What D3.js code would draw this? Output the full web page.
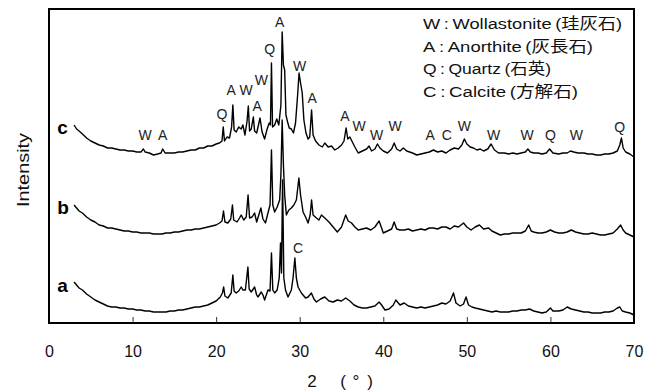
<!DOCTYPE html>
<html>
<head>
<meta charset="utf-8">
<script src="https://cdn.jsdelivr.net/npm/d3@7"></script>
<style>
    body { margin: 0; background: #fff; }
    text { font-family: "Liberation Sans", Arial, "Noto Sans CJK JP", sans-serif; }
</style>
</head>
<body>
<div id="chart"></div>
<script>
// XRD patterns, [2theta, intensity] (arbitrary units)
const patternA = [
    [3,41],[3.3,38],[3.6,35],[4,33],[4.5,29],[5,26],[5.5,23],[6,21],[6.5,19],[7,17],[7.5,16],[8,16],[8.5,15],[9,15],[9.5,14],[10,14],
    [10.5,13],[11,13],[11.5,12],[12,12],[12.5,11],[13,11],[13.5,11],[14,11],[14.5,12],[15,12],[15.5,13],[16,13],[16.5,14],[17,15],
    [17.5,16],[18,16],[18.5,17],[19,18],[19.5,20],[20,22],[20.5,26],[20.75,30],[20.9,36],[21.05,27],[21.4,25],[21.8,30],[22.0,48],
    [22.15,32],[22.4,30],[22.7,32],[23.0,36],[23.2,33],[23.5,33],[23.8,56],[23.95,34],[24.2,31],[24.6,36],[24.85,28],[25.0,26],
    [25.4,31],[25.6,28],[25.8,23],[26.2,33],[26.45,32],[26.62,70],[26.78,33],[27.0,30],[27.3,33],[27.55,45],[27.7,80],[27.82,50],
    [27.95,143],[28.1,45],[28.3,33],[28.6,26],[29.0,33],[29.2,45],[29.42,65],[29.6,45],[29.8,36],[30.2,30],[30.7,25],[31.0,26],
    [31.4,30],[31.7,24],[32.0,21],[32.5,24],[33.0,26],[33.5,22],[34.0,21],[34.5,23],[35.0,22],[35.5,25],[36.0,22],[36.5,18],
    [37.0,16],[37.5,15],[38.0,15],[38.5,16],[39.0,17],[39.5,21],[39.8,18],[40.2,13],[40.7,14],[41.2,18],[41.5,23],[42.0,18],
    [42.5,20],[43.0,17],[43.5,16],[44.0,15],[44.5,16],[45.0,15],[45.5,16],[46.0,17],[46.5,18],[47.0,20],[47.5,19],[48.0,22],
    [48.4,30],[48.7,20],[49.2,17],[49.6,19],[49.9,26],[50.2,18],[50.6,16],[51.0,15],[51.5,14],[52.0,13],[52.5,12],[53.0,11],
    [53.5,12],[54.0,11],[54.5,11],[55.0,11],[55.5,12],[56.0,12],[56.5,13],[57.0,13],[57.5,14],[58.0,12],[58.5,11],[59.0,10],
    [59.5,11],[60.0,15],[60.3,12],[61.0,12],[61.5,13],[62.0,16],[62.5,14],[63.0,13],[63.5,12],[64.0,11],[64.5,11],[65.0,10],
    [65.5,10],[66.0,10],[66.5,11],[67.0,11],[67.5,12],[68.0,15],[68.3,16],[68.6,12],[69.0,11],[69.5,10],[70,8]
];

const patternB = [
    [3,40],[3.3,37],[3.6,34],[4,32],[4.5,28],[5,25],[5.5,23],[6,20],[6.5,19],[7,17],[7.5,17],[8,16],[8.5,15],[9,14],[9.5,14],[10,13],
    [10.5,13],[11,12],[11.5,12],[12,12],[12.5,11],[13,11],[13.5,11],[14,12],[14.5,12],[15,13],[15.5,13],[16,14],[16.5,15],[17,15],
    [17.5,16],[18,16],[18.5,17],[19,18],[19.5,19],[20,20],[20.4,22],[20.7,24],[20.88,34],[21.05,23],[21.4,22],[21.75,26],[21.95,40],
    [22.1,25],[22.5,23],[22.8,27],[23.0,30],[23.3,25],[23.6,28],[23.82,50],[24.0,27],[24.3,28],[24.6,32],[24.85,23],[25.1,30],
    [25.35,37],[25.6,26],[25.9,22],[26.2,32],[26.45,40],[26.62,95],[26.78,40],[27.0,33],[27.3,38],[27.6,45],[27.75,70],[27.9,125],
    [28.05,80],[28.2,50],[28.4,30],[28.7,35],[29.0,37],[29.3,40],[29.6,45],[29.9,67],[30.1,50],[30.4,33],[30.7,28],[31.0,22],
    [31.25,30],[31.42,45],[31.6,30],[32.0,27],[32.3,25],[32.6,30],[33.0,27],[33.5,23],[34.0,18],[34.5,13],[35.0,18],[35.5,30],
    [35.8,24],[36.2,22],[36.6,18],[37.0,15],[37.5,16],[38.0,17],[38.5,15],[39.0,18],[39.5,24],[39.8,17],[40.0,12],[40.5,14],
    [41.0,16],[41.3,23],[41.6,16],[42.0,15],[42.5,15],[43.0,16],[43.5,14],[44.0,15],[44.5,16],[45.0,15],[45.5,17],[46.0,17],
    [46.5,16],[47.0,18],[47.5,18],[48.0,16],[48.5,19],[49.0,18],[49.3,20],[49.6,22],[50.0,18],[50.5,15],[51.0,18],[51.5,20],
    [52.0,16],[52.6,17],[53.0,14],[53.5,12],[54.0,10],[54.5,11],[55.0,11],[55.5,12],[56.0,12],[56.5,12],[57.0,14],[57.4,20],
    [57.7,14],[58.0,13],[58.5,12],[59.0,12],[59.5,13],[60.0,15],[60.5,13],[61.0,12],[61.5,12],[62.0,13],[62.5,15],[63.0,13],
    [63.5,12],[64.0,11],[64.5,11],[65.0,12],[65.5,11],[66.0,10],[66.5,10],[67.0,11],[67.5,12],[68.0,16],[68.4,20],[68.7,15],
    [69.0,12],[69.5,10],[70,8]
];

const patternC = [
    [3,40],[3.3,36],[3.6,34],[4,31],[4.5,27],[5,24],[5.5,22],[6,20],[6.5,19],[7,17],[7.5,17],[8,16],[8.5,15],[9,15],[9.5,14],[10,14],
    [10.5,13],[11,13],[11.3,16],[11.5,13],[12,12],[12.5,10],[13,11],[13.4,12],[13.6,16],[13.9,12],[14.5,12],[15,12],[15.5,13],
    [16,13],[16.5,14],[17,15],[17.5,15],[18,17],[18.5,17],[19,19],[19.5,19],[20,21],[20.4,22],[20.7,24],[20.85,38],[21.0,24],
    [21.3,28],[21.6,27],[21.85,38],[22.0,60],[22.15,35],[22.4,33],[22.7,38],[23.0,36],[23.2,40],[23.45,30],[23.7,44],[23.85,59],
    [24.0,34],[24.2,36],[24.45,48],[24.6,34],[24.85,32],[25.25,47],[25.5,33],[25.8,26],[26.1,36],[26.35,42],[26.5,40],[26.62,102],
    [26.75,38],[27.0,40],[27.25,46],[27.5,40],[27.75,60],[27.9,133],[28.05,100],[28.2,95],[28.35,50],[28.55,43],[28.75,37],
    [29.0,36],[29.25,32],[29.5,42],[29.75,70],[29.92,92],[30.1,82],[30.3,72],[30.5,45],[30.75,32],[31.0,26],[31.2,28],[31.42,55],
    [31.6,30],[31.9,24],[32.3,20],[32.7,18],[33.0,22],[33.4,18],[33.8,19],[34.2,15],[34.6,17],[35.0,20],[35.3,24],[35.55,37],
    [35.75,26],[36.0,28],[36.3,23],[36.6,18],[37.0,12],[37.5,14],[38.0,16],[38.3,19],[38.6,14],[39.0,16],[39.3,21],[39.6,17],
    [40.0,14],[40.5,12],[41.0,16],[41.3,22],[41.6,16],[42.0,14],[42.4,17],[42.8,14],[43.5,12],[44.0,10],[44.5,11],[45.0,12],
    [45.5,13],[46.0,15],[46.5,13],[47.0,14],[47.5,12],[48.0,15],[48.5,17],[49.0,16],[49.4,20],[49.7,26],[50.0,21],[50.4,18],
    [50.8,17],[51.2,15],[51.6,16],[52.0,14],[52.5,16],[52.9,21],[53.3,15],[53.8,12],[54.5,12],[55.0,11],[55.5,12],[56.0,11],
    [56.5,12],[57.0,13],[57.3,16],[57.6,13],[58.0,12],[58.5,12],[59.0,11],[59.5,12],[59.9,16],[60.3,12],[61.0,11],[61.5,12],
    [62.0,12],[62.4,14],[62.8,13],[63.3,12],[64.0,12],[64.5,11],[65.0,11],[65.5,10],[66.0,10],[66.5,11],[67.0,11],[67.5,12],
    [68.0,14],[68.3,20],[68.5,27],[68.7,17],[69.0,13],[69.5,11],[70,8]
];

const sampleNames = ['a', 'b', 'c'];
const samplePatterns = [patternA, patternB, patternC];
const sampleOffsets = [0, 78, 158];

// peak marks above the traces: letter, 2theta, height (same units, offset included)
const peakLetters = ['W','A','Q','A','W','A','W','Q','A','W','A','A','W','W','W','A','C','W','W','W','Q','W','Q','C'];
const peakAngles  = [11.5,13.6,20.7,21.8,23.6,24.9,25.4,26.4,27.6,30.0,31.5,35.4,37.1,39.2,41.4,45.6,47.6,49.7,53.2,57.2,60.0,63.1,68.3,29.8];
const peakHeights = [183,183,204,228,228,212,238,269,296,252,220,202,192,183,192,183,183,192,183,183,183,183,191,70];

const legendLines = [
    'W\u2009:\u2009Wollastonite\u2009(珪灰石)',
    'A\u2009:\u2009Anorthite\u2009(灰長石)',
    'Q\u2009:\u2009Quartz\u2009(石英)',
    'C\u2009:\u2009Calcite\u2009(方解石)'
];
const legendWidths = [199, 170, 128, 155];

const xTicks = [0, 10, 20, 30, 40, 50, 60, 70];

const width = 658;
const height = 392;
const margin = { top: 9, right: 24, bottom: 69, left: 49 };

const svg = d3.select("#chart").append("svg")
    .attr("width", width)
    .attr("height", height);

const x = d3.scaleLinear().domain([0, 70]).range([margin.left, width - margin.right]);
const y = d3.scaleLinear().domain([0, 314]).range([height - margin.bottom, margin.top]);

// x axis, ticks pointing inward
const xAxis = svg.append("g")
    .attr("transform", `translate(0,${height - margin.bottom})`)
    .call(d3.axisBottom(x).tickValues(xTicks).tickSizeInner(-6).tickSizeOuter(0).tickPadding(23));
xAxis.select(".domain").remove();
xAxis.selectAll(".tick line").attr("stroke", "#333");
xAxis.selectAll(".tick text")
    .style("font-size", "16px")
    .style("font-family", '"Liberation Sans", Arial, sans-serif')
    .attr("fill", "#111");

// traces
const line = d3.line()
    .x(d => x(d[0]))
    .y(d => d[1]);

samplePatterns.forEach((pat, i) => {
    svg.append("path")
        .datum(pat.map(d => [d[0], y(d[1] + sampleOffsets[i])]))
        .attr("fill", "none")
        .attr("stroke", "#000")
        .attr("stroke-width", 1.4)
        .attr("stroke-linejoin", "round")
        .attr("d", line);

    svg.append("text")
        .attr("x", x(1.0))
        .attr("y", y(sampleOffsets[i] + 31))
        .style("font-size", "19px")
        .style("font-weight", "bold")
        .attr("fill", "#000")
        .text(sampleNames[i]);
});

// peak letters
svg.selectAll(".peak")
    .data(peakLetters)
    .enter()
    .append("text")
    .attr("class", "peak")
    .attr("x", (d, i) => x(peakAngles[i]))
    .attr("y", (d, i) => y(peakHeights[i]))
    .attr("text-anchor", "middle")
    .style("font-size", "14px")
    .attr("fill", "#222")
    .text(d => d);

// frame
svg.append("rect")
    .attr("x", margin.left)
    .attr("y", margin.top)
    .attr("width", width - margin.left - margin.right)
    .attr("height", height - margin.top - margin.bottom)
    .attr("fill", "none")
    .attr("stroke", "#000")
    .attr("stroke-width", 2);

// legend
svg.selectAll(".legend")
    .data(legendLines)
    .enter()
    .append("text")
    .attr("class", "legend")
    .attr("x", 423)
    .attr("y", (d, i) => 29 + i * 22.5)
    .attr("textLength", (d, i) => legendWidths[i])
    .attr("lengthAdjust", "spacingAndGlyphs")
    .style("font-size", "15.5px")
    .attr("fill", "#111")
    .text(d => d);

// y label
svg.append("text")
    .attr("transform", "translate(29,170) rotate(-90)")
    .attr("text-anchor", "middle")
    .attr("textLength", 74)
    .attr("lengthAdjust", "spacingAndGlyphs")
    .style("font-size", "17px")
    .attr("fill", "#111")
    .text("Intensity");

// x label, the theta glyph is missing in the original
const xLabelParts = [['2', 312], ['(', 343], ['°', 356], [')', 370]];
xLabelParts.forEach(p => {
    svg.append("text")
        .attr("x", p[1])
        .attr("y", 387)
        .attr("text-anchor", "middle")
        .style("font-size", "17px")
        .attr("fill", "#111")
        .text(p[0]);
});
</script>
</body>
</html>
